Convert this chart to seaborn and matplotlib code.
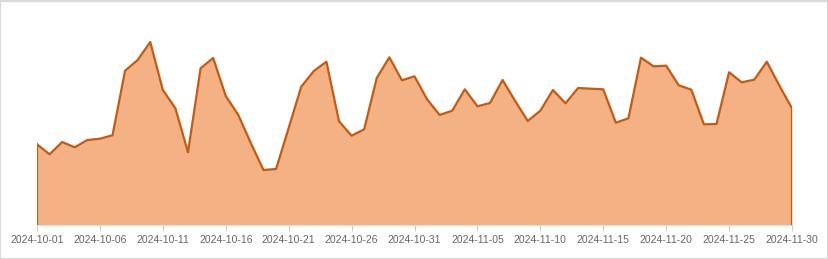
import numpy as np
import pandas as pd
import matplotlib
matplotlib.use("Agg")
import matplotlib.pyplot as plt
import matplotlib.dates as mdates
from matplotlib.patches import Rectangle
import seaborn as sns

dates = pd.date_range("2024-10-01", "2024-11-30", freq="D")
values = [
    80.7, 70.7, 83.0, 77.7, 85.0, 86.3, 89.7, 154.3, 165.0, 183.0,
    135.0, 116.7, 72.7, 156.7, 167.0, 129.0, 110.0, 81.7, 55.0, 56.0,
    97.0, 138.3, 154.0, 163.3, 103.7, 89.3, 95.7, 147.0, 167.7, 144.7,
    148.7, 125.7, 110.0, 114.3, 135.7, 118.7, 122.0, 145.0, 124.0, 104.0,
    114.3, 135.0, 121.7, 137.0, 136.3, 135.7, 102.3, 106.7, 167.3, 158.7,
    159.3, 139.7, 135.3, 100.7, 101.0, 152.7, 142.7, 145.3, 163.3, 139.3,
    116.7,
]
tick_labels = ["2024-10-01", "2024-10-06", "2024-10-11", "2024-10-16", "2024-10-21",
               "2024-10-26", "2024-10-31", "2024-11-05", "2024-11-10", "2024-11-15",
               "2024-11-20", "2024-11-25", "2024-11-30"]

df = pd.DataFrame({"date": dates, "value": values})

sns.set_theme(style="white")
plt.rcParams["font.family"] = ["Liberation Sans", "DejaVu Sans"]

W, H = 829, 259
fig = plt.figure(figsize=(W / 100, H / 100), dpi=100)
ax = fig.add_axes([37 / W, 1 - 225 / H, (792 - 37) / W, (225 - 10) / H])

ax.fill_between(df["date"], df["value"], 0, color="#f4b183", linewidth=0, zorder=1)
sns.lineplot(data=df, x="date", y="value", ax=ax, color="#c55a11", linewidth=1.6, zorder=3)
# vertical edges of the area
ax.plot([df["date"].iloc[0]] * 2, [0, values[0]], color="#c55a11", linewidth=1.6, zorder=3)
ax.plot([df["date"].iloc[-1]] * 2, [0, values[-1]], color="#c55a11", linewidth=1.6, zorder=3)

ax.set_xlim(df["date"].iloc[0], df["date"].iloc[-1])
ax.set_ylim(0, 215)
ax.set_xlabel("")
ax.set_ylabel("")
ax.set_yticks([])
tick_dates = pd.to_datetime(tick_labels)
ax.set_xticks(tick_dates)
ax.set_xticklabels(tick_labels)
ax.tick_params(axis="x", length=4, width=0.8, color="#cccccc", labelsize=7.5,
               labelcolor="#666666", pad=3, bottom=True)
for s in ["top", "left", "right"]:
    ax.spines[s].set_visible(False)
ax.spines["bottom"].set_color("#dddddd")
ax.spines["bottom"].set_linewidth(0.8)
ax.set_facecolor("white")

fig.patches.append(Rectangle((0.5 / W, 0.5 / H), 1 - 1.5 / W, 1 - 1.5 / H,
                             transform=fig.transFigure, fill=False,
                             edgecolor="#d9d9d9", linewidth=1.6))

fig.savefig("out.png", dpi=100)
